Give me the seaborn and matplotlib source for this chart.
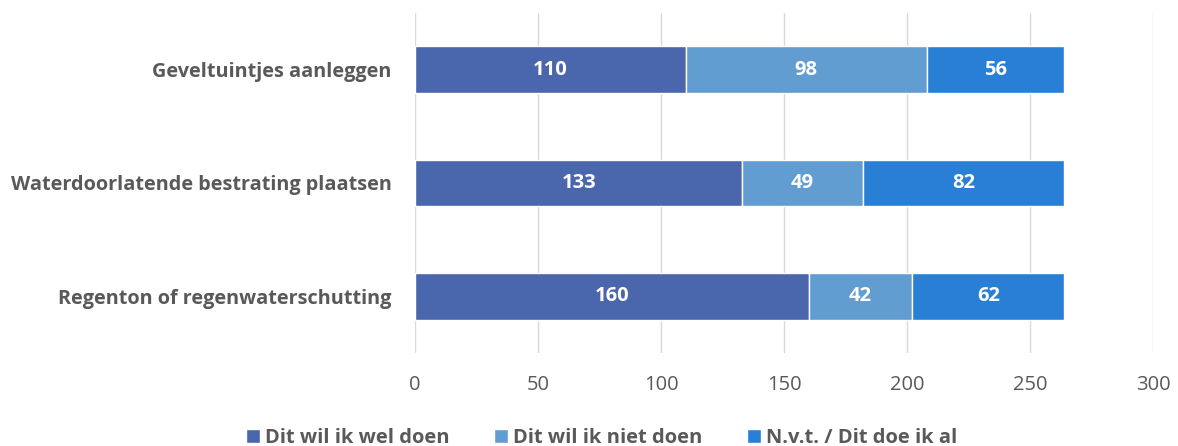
import matplotlib
matplotlib.use("Agg")
import matplotlib.pyplot as plt
import seaborn as sns
import pandas as pd
from matplotlib.patches import Patch

categories = ["Geveltuintjes aanleggen", "Waterdoorlatende bestrating plaatsen", "Regenton of regenwaterschutting"]
wel_doen = [110, 133, 160]
niet_doen = [98, 49, 42]
doe_al = [56, 82, 62]
series_names = ["Dit wil ik wel doen", "Dit wil ik niet doen", "N.v.t. / Dit doe ik al"]
colors = ["#4A66AC", "#629DD1", "#297FD5"]
x_ticks = [0, 50, 100, 150, 200, 250, 300]

sns.set_theme(style="white")
plt.rcParams["font.family"] = ["Open Sans", "DejaVu Sans"]

fig = plt.figure(figsize=(11.78, 4.46), dpi=100)
ax = fig.add_axes([0.3523, 0.2085, 0.6265, 0.7624])

series = [wel_doen, niet_doen, doe_al]
left = [0] * len(categories)
for name, vals, col in zip(series_names, series, colors):
    df = pd.DataFrame({"cat": categories, "val": vals, "left": left})
    bars = ax.barh(df["cat"], df["val"], left=df["left"], height=0.41, color=col, label=name, zorder=3)
    for b, v in zip(bars, vals):
        ax.text(b.get_x() + b.get_width() / 2, b.get_y() + b.get_height() / 2, str(v),
                ha="center", va="center", color="white", fontsize=14.5, fontweight="bold", zorder=4)
    left = [l + v for l, v in zip(left, vals)]

ax.set_ylim(2.5, -0.5)
ax.set_xlim(0, 300)
ax.set_xticks(x_ticks)
ax.grid(axis="x", color="#D9D9D9", linewidth=1, zorder=0)
ax.grid(axis="y", visible=False)
for s in ax.spines.values():
    s.set_visible(False)
ax.tick_params(axis="x", colors="#595959", labelsize=14.5, length=0, pad=16)
ax.tick_params(axis="y", colors="#595959", labelsize=14.3, length=0, pad=17)
for lbl in ax.get_yticklabels():
    lbl.set_fontweight("bold")
ax.set_xlabel("")
ax.set_ylabel("")

handles = [Patch(facecolor=c, label=n) for n, c in zip(series_names, colors)]
leg = fig.legend(handles=handles, loc="center", bbox_to_anchor=(0.5106, 0.018), ncol=3, frameon=False,
                 fontsize=14.5, handlelength=0.7, handleheight=0.7, handletextpad=0.25, columnspacing=2.2)
for t in leg.get_texts():
    t.set_color("#595959")
    t.set_fontweight("bold")

fig.savefig("out.png", dpi=100)
